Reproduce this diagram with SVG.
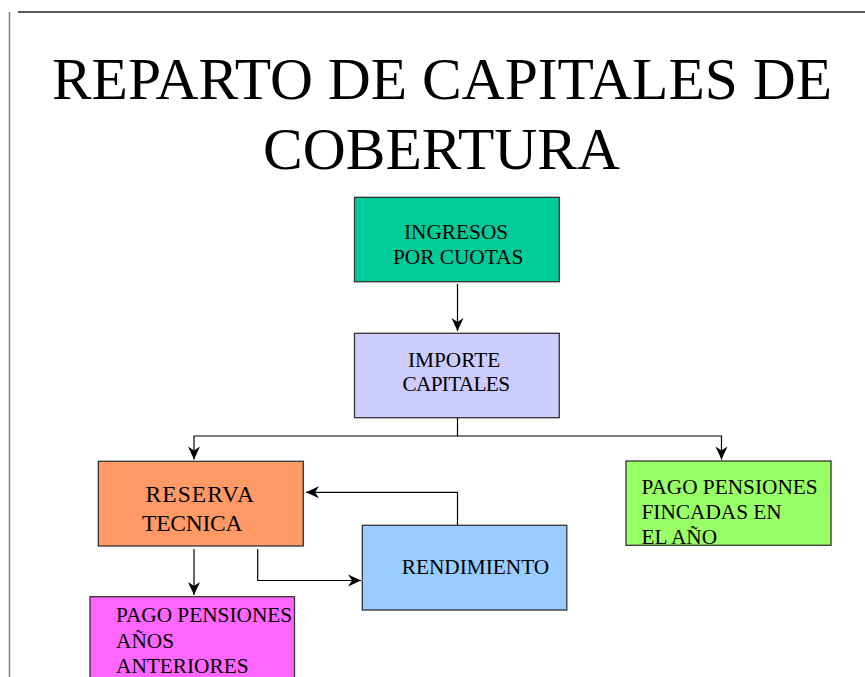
<svg xmlns="http://www.w3.org/2000/svg" width="865" height="677" viewBox="0 0 865 677">
<style>
  text { font-family: "Liberation Serif", "Times New Roman", serif; fill: #000; }
  .title { font-size: 59.5px; text-anchor: middle; }
  .lbl { font-size: 21.3px; }
  .box { stroke: #333; stroke-width: 1.3; }
  .conn { fill: none; stroke: #000; stroke-width: 1.2; }
</style>
<defs>
  <marker id="arr" viewBox="-14 -7 15 14" refX="0" refY="0" markerWidth="15" markerHeight="14" markerUnits="userSpaceOnUse" orient="auto">
    <path d="M0,0 L-13,-6 L-9,0 L-13,6 Z" fill="#000"/>
  </marker>
</defs>
<rect width="865" height="677" fill="#fff"/>
<line x1="18" y1="12" x2="865" y2="12" stroke="#222" stroke-width="1.3"/>
<line x1="9.5" y1="12" x2="9.5" y2="677" stroke="#888" stroke-width="1.6"/>

<g id="title">
  <text class="title" x="442" y="99">REPARTO DE CAPITALES DE</text>
  <text class="title" x="441.5" y="169">COBERTURA</text>
</g>

<g id="connectors">
  <path class="conn" d="M457.5,284 V331" marker-end="url(#arr)"/>
  <path class="conn" d="M457.5,418 V436 H194 V459.5" marker-end="url(#arr)"/>
  <path class="conn" d="M457.5,436 H721.5 V459.5" marker-end="url(#arr)"/>
  <path class="conn" d="M457.5,525 V492.3 H306" marker-end="url(#arr)"/>
  <path class="conn" d="M194,549 V595" marker-end="url(#arr)"/>
  <path class="conn" d="M257.7,549 V580.5 H361" marker-end="url(#arr)"/>
</g>

<g id="ingresos">
  <rect class="box" x="354.5" y="197.3" width="204.8" height="84.4" fill="#00CC99"/>
  <text class="lbl" x="404" y="239">INGRESOS</text>
  <text class="lbl" x="393" y="263.5">POR CUOTAS</text>
</g>

<g id="importe">
  <rect class="box" x="354.5" y="333.3" width="204.8" height="84.4" fill="#CCCCFF"/>
  <text class="lbl" x="408" y="366.5">IMPORTE</text>
  <text class="lbl" x="402.5" y="391" textLength="107.5">CAPITALES</text>
</g>

<g id="reserva">
  <rect class="box" x="98.3" y="461.3" width="205" height="84.7" fill="#FF9966"/>
  <text class="lbl" x="145.5" y="502.3" style="font-size:23.5px" textLength="108.5">RESERVA</text>
  <text class="lbl" x="142" y="530.7" style="font-size:23.5px" textLength="100.5">TECNICA</text>
</g>

<g id="rendimiento">
  <rect class="box" x="362.3" y="525.3" width="204.5" height="84.7" fill="#99CCFF"/>
  <text class="lbl" x="401.7" y="574">RENDIMIENTO</text>
</g>

<g id="fincadas">
  <rect class="box" x="626" y="461" width="205" height="84.3" fill="#99FF66"/>
  <text class="lbl" x="641.5" y="494.3">PAGO PENSIONES</text>
  <text class="lbl" x="641.5" y="518.8">FINCADAS EN</text>
  <text class="lbl" x="641.5" y="543.5">EL AÑO</text>
</g>

<g id="anteriores">
  <rect class="box" x="90" y="596.7" width="204.5" height="95" fill="#FF66FF"/>
  <text class="lbl" x="116" y="621.7">PAGO PENSIONES</text>
  <text class="lbl" x="116" y="648">AÑOS</text>
  <text class="lbl" x="116" y="673.3">ANTERIORES</text>
</g>
</svg>
